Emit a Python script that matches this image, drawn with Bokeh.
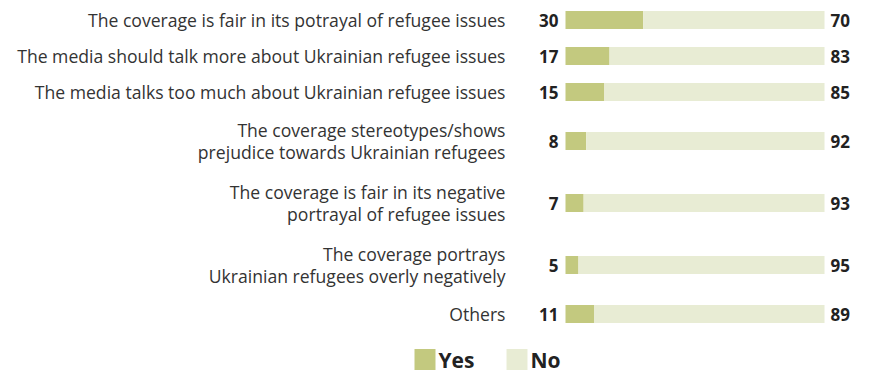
from bokeh.plotting import figure
from bokeh.models import Range1d, ColumnDataSource
from bokeh.core.properties import value
from bokeh.embed import file_html
from bokeh.resources import INLINE

categories = [
    "The coverage is fair in its potrayal of refugee issues",
    "The media should talk more about Ukrainian refugee issues",
    "The media talks too much about Ukrainian refugee issues",
    "The coverage stereotypes/shows\nprejudice towards Ukrainian refugees",
    "The coverage is fair in its negative\nportrayal of refugee issues",
    "The coverage portrays\nUkrainian refugees overly negatively",
    "Others",
]
yes_values = [30, 17, 15, 8, 7, 5, 11]
no_values = [70, 83, 85, 92, 93, 95, 89]
series_names = ["Yes", "No"]
series_colors = ["#c3c97f", "#e8ecd4"]

W, H = 870, 372
BAR_LEFT_PX, BAR_RIGHT_PX = 565, 824
scale = (BAR_RIGHT_PX - BAR_LEFT_PX) / 100.0

# row layout (pixel units, y grows downward)
half = {1: 18, 2: 31}
ys = []
y = 19.5
for i, c in enumerate(categories):
    n = c.count("\n") + 1
    if i > 0:
        prev = categories[i - 1].count("\n") + 1
        y += half[prev] + half[n]
    ys.append(y)

p = figure(width=W, height=H, output_backend="svg", toolbar_location=None,
           x_range=Range1d(-BAR_LEFT_PX / scale, (W - BAR_LEFT_PX) / scale),
           y_range=Range1d(H, 0), min_border=0)
p.axis.visible = False
p.grid.visible = False
p.outline_line_color = None
p.background_fill_color = "white"
p.border_fill_color = "white"

src = ColumnDataSource(dict(
    y=ys, cat=categories, yes=yes_values, no=no_values,
    total=[a + b for a, b in zip(yes_values, no_values)],
    yes_s=[str(v) for v in yes_values], no_s=[str(v) for v in no_values],
    zero=[0] * len(ys),
))

p.hbar(y="y", left="zero", right="yes", height=18, source=src,
       fill_color=series_colors[0], line_color=None)
p.hbar(y="y", left="yes", right="total", height=18, source=src,
       fill_color=series_colors[1], line_color=None)

font = value("Open Sans")
p.text(x="zero", y="y", text="cat", source=src, x_offset=-60,
       text_align="right", text_baseline="middle", text_font=font,
       text_font_size="17.6px", text_color="#333333", text_line_height=0.92)
p.text(x="zero", y="y", text="yes_s", source=src, x_offset=-7,
       text_align="right", text_baseline="middle", text_font=font,
       text_font_size="17px", text_font_style="bold", text_color="#222222")
p.text(x="total", y="y", text="no_s", source=src, x_offset=6,
       text_align="left", text_baseline="middle", text_font=font,
       text_font_size="17px", text_font_style="bold", text_color="#222222")

# legend
leg_px = [414, 506]
leg = ColumnDataSource(dict(
    x=[(px - BAR_LEFT_PX) / scale for px in leg_px],
    xc=[(px + 10.5 - BAR_LEFT_PX) / scale for px in leg_px],
    y=[359, 359], name=series_names, color=series_colors))
p.scatter(x="xc", y="y", source=leg, marker="square", size=21,
          fill_color="color", line_color=None)
p.text(x="x", y="y", text="name", source=leg, x_offset=24,
       text_align="left", text_baseline="middle", text_font=font,
       text_font_size="21px", text_font_style="bold", text_color="#222222")

open("out.html", "w").write(file_html(p, INLINE))
